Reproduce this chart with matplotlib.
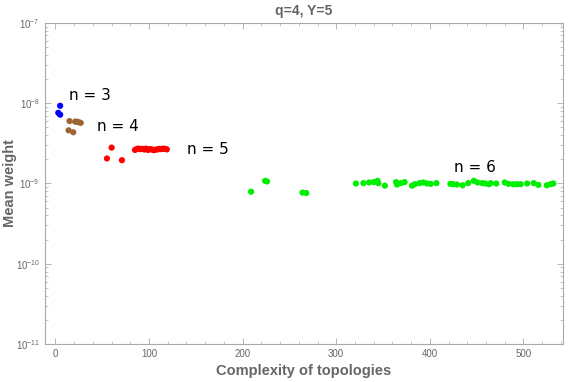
import numpy as np
import matplotlib.pyplot as plt
from matplotlib.ticker import LogLocator, MultipleLocator, NullFormatter

plt.rcParams['font.family'] = ['Liberation Sans', 'DejaVu Sans']
plt.rcParams['mathtext.fontset'] = 'custom'
plt.rcParams['mathtext.rm'] = 'Liberation Sans'

# n = 3
x3 = [5, 3, 5]
y3 = [9.3e-9, 7.6e-9, 7.2e-9]

# n = 4
x4 = [15, 21, 23, 25, 27, 14, 19]
y4 = [6.0e-9, 5.9e-9, 5.9e-9, 5.8e-9, 5.7e-9, 4.6e-9, 4.35e-9]

# n = 5
x5 = [55, 60, 71, 85, 87, 89, 91, 93, 95, 97, 99, 101, 103, 105, 107,
      109, 111, 113, 115, 117, 119]
y5 = [2.05, 2.8, 1.95, 2.62, 2.70, 2.72, 2.68, 2.70, 2.65, 2.72, 2.62,
      2.68, 2.66, 2.60, 2.64, 2.66, 2.70, 2.68, 2.72, 2.70, 2.66]
y5 = [v * 1e-9 for v in y5]

# n = 6
x6 = [209, 224, 226, 264, 268,
      321, 329, 335, 340, 344, 345, 352, 364, 365, 369, 373, 381, 384, 389,
      393, 397, 401, 407, 422, 425, 429, 435, 441, 447, 451, 456, 459, 463,
      465, 471, 480, 484, 489, 493, 497, 504, 511, 516, 525, 529, 532]
y6 = [0.79, 1.08, 1.06, 0.77, 0.76,
      1.00, 1.01, 1.03, 1.04, 1.08, 1.01, 0.94, 1.04, 0.97, 1.01, 1.04, 0.94,
      0.98, 1.01, 1.03, 1.00, 0.99, 1.01, 0.99, 0.98, 0.97, 0.95, 1.01, 1.08,
      1.03, 1.01, 1.00, 0.98, 1.01, 1.00, 1.03, 0.99, 0.98, 0.98, 0.98, 1.00,
      1.01, 0.96, 0.95, 0.98, 1.00]
y6 = [v * 1e-9 for v in y6]

groups = [(x3, y3, '#0000ff'), (x4, y4, '#9b6633'),
          (x5, y5, '#ff0000'), (x6, y6, '#00ee00')]
labels = [("n = 3", 14, 1.26e-8), ("n = 4", 44, 5.06e-9),
          ("n = 5", 141, 2.66e-9), ("n = 6", 426, 1.6e-9)]

fig = plt.figure(figsize=(5.68, 3.82), dpi=100)
ax = fig.add_axes([0.0787, 0.0995, 0.912, 0.8403])

for xs, ys, c in groups:
    ax.scatter(xs, ys, s=20, color=c, edgecolors='none', zorder=3)

for t, tx, ty in labels:
    ax.text(tx, ty, t, fontsize=11, ha='left', va='center', color='black',
            family=['DejaVu Sans'])

ax.set_yscale('log')
ax.set_ylim(1e-11, 1e-7)
ax.set_xlim(-11.5, 542)

ax.xaxis.set_major_locator(MultipleLocator(100))
ax.xaxis.set_minor_locator(MultipleLocator(20))
ax.yaxis.set_major_locator(LogLocator(base=10, numticks=10))
ax.yaxis.set_minor_locator(LogLocator(base=10, subs=np.arange(2, 10), numticks=10))
ax.yaxis.set_minor_formatter(NullFormatter())

grey = '#666666'
for s in ax.spines.values():
    s.set_color('#aaaaaa')
    s.set_linewidth(0.8)
ax.tick_params(which='both', direction='in', top=True, right=True,
               color='#aaaaaa', labelcolor=grey, labelsize=7)
ax.tick_params(which='major', length=4, width=0.6)
ax.tick_params(which='minor', length=2, width=0.5)

ax.set_xlabel("Complexity of topologies", fontsize=10.5, fontweight='bold',
              color=grey, va='center')
ax.set_ylabel("Mean weight", fontsize=10.5, fontweight='bold',
              color=grey, va='center')
ax.xaxis.set_label_coords(0.5, -0.084)
ax.yaxis.set_label_coords(-0.067, 0.5)
ax.set_title("q=4, Y=5", fontsize=10, fontweight='bold', color=grey, pad=6)

fig.savefig('out.png', dpi=100)
